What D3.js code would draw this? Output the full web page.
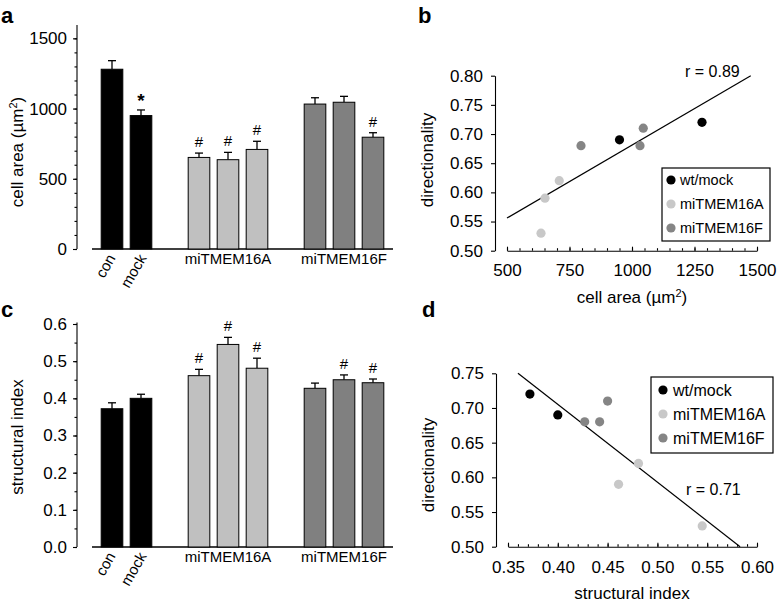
<!DOCTYPE html>
<html>
<head>
<meta charset="utf-8">
<script src="https://cdn.jsdelivr.net/npm/d3@7"></script>
<style>
  html, body { margin: 0; padding: 0; background: #fff; }
  svg { display: block; font-family: "Liberation Sans", Arial, Helvetica, sans-serif; }
</style>
</head>
<body>
<svg id="chart" width="777" height="607"></svg>
<script>
// ---------------- DATA ----------------
const slots = ["con", "mock", "gap1", "16A-1", "16A-2", "16A-3", "gap2", "16F-1", "16F-2", "16F-3"];
const barIds = ["con", "mock", "16A-1", "16A-2", "16A-3", "16F-1", "16F-2", "16F-3"];
const barGroups = ["wt", "wt", "A", "A", "A", "F", "F", "F"];
const cellArea = [1280, 950, 652, 636, 709, 1032, 1045, 796];
const cellAreaErr = [61, 40, 31, 52, 58, 45, 42, 32];
const cellAreaMarks = ["", "*", "#", "#", "#", "", "", "#"];
const structIdx = [0.372, 0.400, 0.461, 0.545, 0.481, 0.427, 0.450, 0.442];
const structErr = [0.016, 0.011, 0.017, 0.019, 0.027, 0.014, 0.013, 0.010];
const structMarks = ["", "", "#", "#", "#", "", "#", "#"];
const directionality = [0.72, 0.69, 0.59, 0.53, 0.62, 0.68, 0.71, 0.68];

const rotatedLabels = ["con", "mock"];
const groupLabels = ["miTMEM16A", "miTMEM16F"];
const groupLabelSlots = ["16A-2", "16F-2"];
const legendLabels = ["wt/mock", "miTMEM16A", "miTMEM16F"];
const legendGroups = ["wt", "A", "F"];

const areaTicks = [0, 500, 1000, 1500];
const structTicks = [0, 0.1, 0.2, 0.3, 0.4, 0.5, 0.6];
const dirTicksB = [0.50, 0.55, 0.60, 0.65, 0.70, 0.75, 0.80];
const areaTicksB = [500, 750, 1000, 1250, 1500];
const dirTicksD = [0.50, 0.55, 0.60, 0.65, 0.70, 0.75];
const structTicksD = [0.35, 0.40, 0.45, 0.50, 0.55, 0.60];

const fitB = [[500, 0.556], [1475, 0.80]];
const fitD = [[0.36, 0.75], [0.583, 0.50]];
const rB = "r = 0.89";
const rD = "r = 0.71";

// ---------------- STYLE ----------------
const barFill = { wt: "#000000", A: "#c0c0c0", F: "#808080" };
const dotFill = { wt: "#000000", A: "#c8c8c8", F: "#858585" };
const tickFont = 17;

const svg = d3.select("#chart");
svg.append("rect").attr("width", 777).attr("height", 607).attr("fill", "#fff");

function styleAxis(g) {
  g.selectAll("path, line").attr("stroke", "#000").attr("stroke-width", 1.1);
  g.selectAll("text").attr("font-size", tickFont).attr("fill", "#000")
    .attr("font-family", '"Liberation Sans", Arial, sans-serif');
}

function panelLabel(txt, x, y) {
  svg.append("text").attr("x", x).attr("y", y).text(txt)
    .attr("font-size", 22).attr("font-weight", "bold");
}

// ---------------- BAR PANELS ----------------
function barPanel(opts) {
  const x = d3.scaleBand().domain(slots).range([97.5, 387.5]).paddingInner(0.22).paddingOuter(0.11);
  const y = d3.scaleLinear().domain(opts.domain).range([opts.y0, opts.yTop]);
  const g = svg.append("g");

  // minor ticks
  const minorAx = d3.axisLeft(y).tickValues(opts.minor).tickSize(2.5).tickFormat("");
  g.append("g").attr("transform", `translate(77,0)`).call(minorAx).call(styleAxis)
    .select(".domain").remove();
  const ax = d3.axisLeft(y).tickValues(opts.ticks).tickSize(4).tickSizeOuter(0)
    .tickPadding(6).tickFormat(opts.fmt);
  const ag = g.append("g").attr("transform", `translate(77,0)`).call(ax).call(styleAxis);
  ag.select(".domain").attr("d", `M0,${opts.y0}V${opts.axisTop}`);

  // baseline
  g.append("line").attr("x1", 92).attr("x2", 393).attr("y1", y(0)).attr("y2", y(0))
    .attr("stroke", "#000").attr("stroke-width", 1.3);

  const bw = x.bandwidth();
  barIds.forEach((id, i) => {
    const cx = x(id) + bw / 2;
    const top = y(opts.values[i]);
    const errTop = y(opts.values[i] + opts.errs[i]);
    // error bar
    g.append("line").attr("x1", cx).attr("x2", cx).attr("y1", top).attr("y2", errTop)
      .attr("stroke", "#000").attr("stroke-width", 1.3);
    g.append("line").attr("x1", cx - 4).attr("x2", cx + 4).attr("y1", errTop).attr("y2", errTop)
      .attr("stroke", "#000").attr("stroke-width", 1.3);
    g.append("rect").attr("x", x(id) + 0.5).attr("y", top).attr("width", bw - 1)
      .attr("height", y(0) - top).attr("fill", barFill[barGroups[i]])
      .attr("stroke", "#000").attr("stroke-width", 1);
    const m = opts.marks[i];
    if (m === "#") {
      g.append("text").attr("x", cx).attr("y", errTop - 6).attr("text-anchor", "middle")
        .attr("font-size", 15).text("#");
    } else if (m === "*") {
      g.append("text").attr("x", cx).attr("y", errTop - 3).attr("text-anchor", "middle")
        .attr("font-size", 19).attr("font-weight", "bold").text("*");
    }
  });

  // category labels
  rotatedLabels.forEach((l, i) => {
    const cx = x(l) + bw / 2 + (i === 0 ? 4 : 6);
    g.append("text").attr("transform", `translate(${cx},${y(0) + 9}) rotate(-60)`)
      .attr("text-anchor", "end").attr("font-size", 15).text(l);
  });
  groupLabels.forEach((l, i) => {
    g.append("text").attr("x", x(groupLabelSlots[i]) + bw / 2).attr("y", y(0) + 15)
      .attr("text-anchor", "middle").attr("font-size", 15).text(l);
  });

  // y title
  const t = g.append("text").attr("transform", `translate(23,${opts.titleY}) rotate(-90)`)
    .attr("text-anchor", "middle").attr("font-size", 17);
  opts.title(t);
}

barPanel({
  domain: [0, 1600], y0: 249, yTop: 24.3, axisTop: 25,
  ticks: areaTicks, minor: d3.range(0, 1501, 100), fmt: d3.format("d"),
  values: cellArea, errs: cellAreaErr, marks: cellAreaMarks, titleY: 152,
  title: t => { t.append("tspan").text("cell area (µm"); t.append("tspan").attr("font-size", 11).attr("dy", -6).text("2"); t.append("tspan").attr("dy", 6).text(")"); }
});
barPanel({
  domain: [0, 0.6], y0: 547, yTop: 324, axisTop: 322.5,
  ticks: structTicks, minor: d3.range(0, 0.601, 0.05), fmt: d3.format(".1f"),
  values: structIdx, errs: structErr, marks: structMarks, titleY: 437,
  title: t => t.text("structural index")
});

// ---------------- SCATTER PANELS ----------------
function scatterPanel(opts) {
  const x = d3.scaleLinear().domain(opts.xDomain).range(opts.xRange);
  const y = d3.scaleLinear().domain(opts.yDomain).range(opts.yRange);
  const g = svg.append("g");
  const yAx = d3.axisLeft(y).tickValues(opts.yTicks).tickSize(4).tickSizeOuter(0)
    .tickPadding(8).tickFormat(d3.format(".2f"));
  g.append("g").attr("transform", `translate(${opts.yAxisX},0)`).call(yAx).call(styleAxis);

  const xMinor = d3.axisBottom(x).tickValues(opts.xMinor).tickSize(-2.5).tickFormat("");
  g.append("g").attr("transform", `translate(0,${opts.yRange[0]})`).call(xMinor).call(styleAxis)
    .select(".domain").remove();
  const xAx = d3.axisBottom(x).tickValues(opts.xTicks).tickSizeInner(-4).tickSizeOuter(0)
    .tickPadding(opts.xPad).tickFormat(opts.xFmt);
  g.append("g").attr("transform", `translate(0,${opts.yRange[0]})`).call(xAx).call(styleAxis);

  // fit line
  g.append("path").datum(opts.fit)
    .attr("d", d3.line().x(d => x(d[0])).y(d => y(d[1])))
    .attr("stroke", "#000").attr("stroke-width", 1.2).attr("fill", "none");

  // points
  opts.xs.forEach((v, i) => {
    g.append("circle").attr("cx", x(v)).attr("cy", y(directionality[i])).attr("r", 4.6)
      .attr("fill", dotFill[barGroups[i]]);
  });

  g.append("text").attr("x", opts.rPos[0]).attr("y", opts.rPos[1]).attr("font-size", 16).text(opts.rText);

  // legend
  const L = opts.legend;
  g.append("rect").attr("x", L.x).attr("y", L.y).attr("width", L.w).attr("height", L.h)
    .attr("fill", "#fff").attr("stroke", "#000").attr("stroke-width", 1.2);
  legendLabels.forEach((l, i) => {
    const cy = L.y + L.first + i * L.step;
    g.append("circle").attr("cx", L.x + L.cx).attr("cy", cy).attr("r", 4.6).attr("fill", dotFill[legendGroups[i]]);
    g.append("text").attr("x", L.x + L.tx).attr("y", cy).attr("dy", "0.35em")
      .attr("font-size", L.fs).text(l);
  });

  // titles
  g.append("text").attr("transform", `translate(${opts.yTitleX},${opts.yTitleY}) rotate(-90)`)
    .attr("text-anchor", "middle").attr("font-size", 17).text("directionality");
  const xt = g.append("text").attr("x", 632).attr("y", opts.xTitleY).attr("text-anchor", "middle").attr("font-size", 17);
  opts.xTitle(xt);
}

scatterPanel({
  xDomain: [500, 1500], xRange: [507, 757], yDomain: [0.5, 0.8], yRange: [250.7, 75.7],
  yAxisX: 495, yTicks: dirTicksB, xTicks: areaTicksB, xMinor: d3.range(500, 1501, 50),
  xPad: 13, xFmt: d3.format("d"), fit: fitB, xs: cellArea, rText: rB, rPos: [685, 77],
  legend: { x: 662, y: 168, w: 108, h: 73, first: 12, step: 24, cx: 9, tx: 18, fs: 14.5 },
  yTitleX: 433, yTitleY: 160, xTitleY: 303,
  xTitle: t => { t.append("tspan").text("cell area (µm"); t.append("tspan").attr("font-size", 11).attr("dy", -6).text("2"); t.append("tspan").attr("dy", 6).text(")"); }
});
scatterPanel({
  xDomain: [0.35, 0.6], xRange: [508, 757], yDomain: [0.5, 0.75], yRange: [546.7, 373.3],
  yAxisX: 496, yTicks: dirTicksD, xTicks: structTicksD, xMinor: d3.range(0.35, 0.6001, 0.01),
  xPad: 14, xFmt: d3.format(".2f"), fit: fitD, xs: structIdx, rText: rD, rPos: [686, 495],
  legend: { x: 651, y: 377, w: 122, h: 76, first: 13, step: 24, cx: 12, tx: 22, fs: 16 },
  yTitleX: 434, yTitleY: 465, xTitleY: 599,
  xTitle: t => t.text("structural index")
});

panelLabel("a", 1, 23);
panelLabel("b", 418, 23);
panelLabel("c", 1, 317);
panelLabel("d", 422, 317);
</script>
</body>
</html>
